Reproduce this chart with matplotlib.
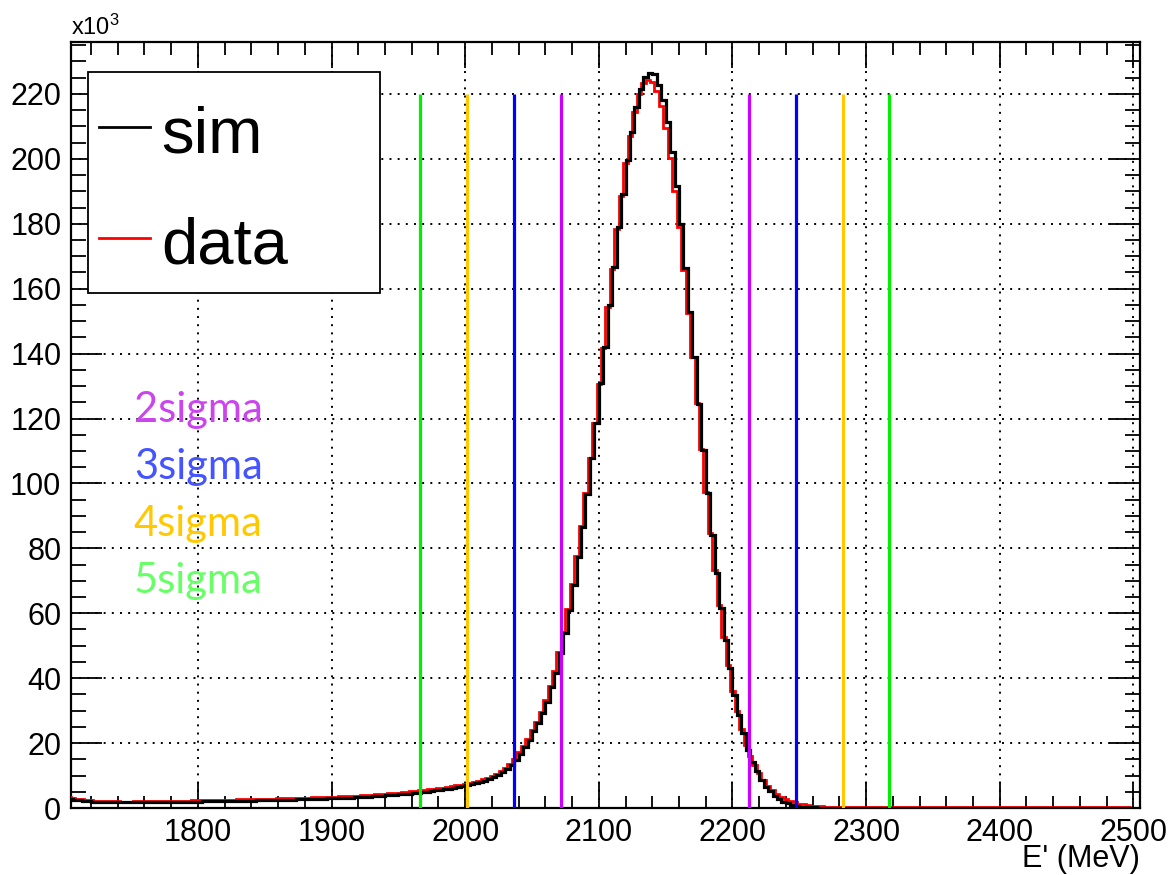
import numpy as np
import matplotlib.pyplot as plt
from matplotlib.ticker import MultipleLocator
from matplotlib.patches import Rectangle

plt.rcParams["font.family"] = ["Liberation Sans", "DejaVu Sans"]
plt.rcParams["mathtext.default"] = "regular"

# histogram binning (MeV)
sim_range = (1700.0, 2500.0)
data_range = (1698.3, 2498.3)
x_view = (1705, 2505)
y_view = (0, 236)

# counts per bin, in units of 10^3
sim_k = [
    3.0, 2.8, 2.6, 2.4, 2.2, 2.05, 1.95, 1.85, 1.8, 1.75,
    1.75, 1.7, 1.7, 1.7, 1.7, 1.7, 1.75, 1.75, 1.75, 1.8,
    1.8, 1.8, 1.85, 1.85, 1.9, 1.9, 1.9, 1.95, 1.95, 2.0,
    2.0, 2.05, 2.05, 2.1, 2.1, 2.15, 2.15, 2.2, 2.2, 2.25,
    2.25, 2.3, 2.3, 2.35, 2.4, 2.4, 2.45, 2.5, 2.5, 2.55,
    2.6, 2.6, 2.65, 2.7, 2.7, 2.75, 2.8, 2.85, 2.9, 2.95,
    3.0, 3.05, 3.1, 3.15, 3.2, 3.3, 3.35, 3.45, 3.5, 3.6,
    3.7, 3.8, 3.9, 4.0, 4.1, 4.2, 4.3, 4.45, 4.6, 4.75,
    4.9, 5.05, 5.2, 5.4, 5.6, 5.8, 6.0, 6.2, 6.45, 6.7,
    6.95, 7.3, 7.65, 8.0, 8.4, 8.9, 9.5, 10.2, 11.0, 12.0,
    13.3, 14.8, 16.7, 18.9, 21.0, 23.6, 26.2, 29.2, 32.8, 37.2,
    41.7, 47.7, 53.8, 61.0, 68.7, 77.4, 86.6, 96.7, 107.7, 118.5,
    130.8, 142.0, 154.9, 166.6, 179.0, 189.2, 199.5, 208.2, 215.9, 221.5,
    225.1, 226.3, 226.0, 222.6, 218.2, 211.3, 202.0, 191.5, 179.8, 166.5,
    152.8, 139.0, 124.6, 110.2, 96.9, 84.1, 72.5, 61.5, 51.8, 43.1,
    34.9, 28.7, 23.1, 17.9, 14.3, 11.3, 8.7, 6.6, 5.1, 3.8,
    2.8, 2.0, 1.4, 0.95, 0.65, 0.45, 0.3, 0.22, 0.16, 0.12,
    0.09, 0.07, 0.06, 0.05, 0.05, 0.04, 0.04, 0.03, 0.03, 0.03,
    0.02, 0.02, 0.02, 0.02, 0.02, 0.02, 0.02, 0.02, 0.02, 0.02,
    0.02, 0.02, 0.02, 0.02, 0.01, 0.01, 0.01, 0.01, 0.01, 0.01,
    0.01, 0.01, 0.01, 0.01, 0.01, 0.01, 0.01, 0.01, 0.01, 0.01,
    0.01, 0.01, 0.01, 0.01, 0.01, 0.01, 0.01, 0.01, 0.01, 0.01,
    0.01, 0.01, 0.01, 0.01, 0.01, 0.01, 0.01, 0.01, 0.01, 0.01,
    0.01, 0.01, 0.01, 0.01, 0.01, 0.01, 0.01, 0.01, 0.01, 0.01,
]

data_k = [
    3.4, 3.3, 3.1, 2.9, 2.7, 2.5, 2.4, 2.3, 2.2, 2.15,
    2.1, 2.05, 2.05, 2.0, 2.0, 2.0, 2.05, 2.05, 2.05, 2.1,
    2.1, 2.15, 2.15, 2.2, 2.2, 2.25, 2.25, 2.3, 2.3, 2.35,
    2.35, 2.4, 2.4, 2.45, 2.5, 2.5, 2.55, 2.55, 2.6, 2.65,
    2.65, 2.7, 2.7, 2.75, 2.8, 2.85, 2.85, 2.9, 2.95, 3.0,
    3.0, 3.05, 3.1, 3.15, 3.15, 3.2, 3.25, 3.3, 3.35, 3.4,
    3.45, 3.5, 3.55, 3.6, 3.7, 3.75, 3.85, 3.9, 4.0, 4.1,
    4.2, 4.3, 4.4, 4.5, 4.6, 4.7, 4.8, 4.95, 5.1, 5.25,
    5.4, 5.55, 5.7, 5.9, 6.1, 6.3, 6.5, 6.7, 6.95, 7.2,
    7.45, 7.8, 8.1, 8.45, 8.85, 9.35, 9.9, 10.6, 11.4, 12.4,
    13.7, 15.2, 17.1, 19.2, 21.4, 24.0, 26.6, 29.6, 33.2, 37.6,
    42.1, 48.0, 54.2, 61.4, 69.0, 77.7, 86.8, 96.9, 107.8, 118.6,
    130.6, 141.8, 154.5, 166.2, 178.4, 188.5, 198.6, 207.0, 214.4, 220.0,
    223.5, 224.3, 223.8, 220.8, 216.2, 209.5, 200.4, 190.2, 178.9, 165.9,
    152.5, 139.0, 124.8, 110.6, 97.5, 84.8, 73.3, 62.4, 52.8, 44.2,
    36.0, 29.8, 24.3, 19.3, 15.9, 13.1, 10.7, 8.6, 6.8, 5.4,
    4.3, 3.4, 2.7, 2.15, 1.7, 1.35, 1.1, 0.9, 0.75, 0.62,
    0.52, 0.46, 0.42, 0.39, 0.37, 0.35, 0.34, 0.33, 0.32, 0.32,
    0.31, 0.31, 0.3, 0.3, 0.3, 0.29, 0.29, 0.29, 0.28, 0.28,
    0.28, 0.28, 0.27, 0.27, 0.27, 0.27, 0.26, 0.26, 0.26, 0.26,
    0.26, 0.25, 0.25, 0.25, 0.25, 0.25, 0.24, 0.24, 0.24, 0.24,
    0.24, 0.24, 0.23, 0.23, 0.23, 0.23, 0.23, 0.23, 0.22, 0.22,
    0.22, 0.22, 0.22, 0.22, 0.22, 0.21, 0.21, 0.21, 0.21, 0.21,
    0.21, 0.21, 0.2, 0.2, 0.2, 0.2, 0.2, 0.2, 0.2, 0.2,
]

# peak fit and sigma window lines
peak_mean = 2142.0
peak_sigma = 35.1
sigma_n = [2, 3, 4, 5]
sigma_line_colors = ["#cc00ff", "#0000ff", "#ffc800", "#00ee00"]
sigma_text_colors = ["#cc44ee", "#4455ff", "#ffc800", "#66ff66"]
sigma_labels = ["2sigma", "3sigma", "4sigma", "5sigma"]
line_top = 220

legend_labels = ["sim", "data"]
legend_colors = ["black", "red"]

sim_edges = np.linspace(sim_range[0], sim_range[1], len(sim_k) + 1)
data_edges = np.linspace(data_range[0], data_range[1], len(data_k) + 1)

fig = plt.figure(figsize=(11.68, 8.75), dpi=100)
ax = fig.add_axes([71 / 1168, 67 / 875, 1069 / 1168, 766 / 875])

ax.stairs(data_k, data_edges, baseline=None, color="red", lw=2.0, zorder=3)
ax.stairs(sim_k, sim_edges, baseline=None, color="black", lw=2.3, zorder=4)

for n, c in zip(sigma_n, sigma_line_colors):
    for s in (-1, 1):
        ax.vlines(peak_mean + s * n * peak_sigma, 0, line_top, color=c, lw=2.3, zorder=5)

ax.set_xlim(*x_view)
ax.set_ylim(*y_view)
ax.xaxis.set_major_locator(MultipleLocator(100))
ax.xaxis.set_minor_locator(MultipleLocator(20))
ax.yaxis.set_major_locator(MultipleLocator(20))
ax.yaxis.set_minor_locator(MultipleLocator(5))
ax.tick_params(which="both", direction="in", top=True, right=True, width=1.3, labelsize=22)
ax.tick_params(axis="x", which="major", length=19, pad=7)
ax.tick_params(axis="x", which="minor", length=9)
ax.tick_params(axis="y", which="major", length=22, pad=7)
ax.tick_params(axis="y", which="minor", length=11)
for sp in ax.spines.values():
    sp.set_linewidth(1.6)

ax.set_axisbelow(True)
ax.grid(which="major", color="black", linestyle=(0, (1, 3.2)), linewidth=1.4)

ax.set_xlabel("E' (MeV)", fontsize=22, ha="right", va="top")
ax.xaxis.set_label_coords(1.0, -0.047)
ax.text(0.0, 1.009, r"x10$^{3}$", transform=ax.transAxes, fontsize=17,
        ha="left", va="baseline")

# legend box
ax.add_patch(Rectangle((0.0162, 0.672), 0.2728, 0.289, transform=ax.transAxes,
                       facecolor="white", edgecolor="black", lw=1.3, zorder=6))
for i, (lab, c) in enumerate(zip(legend_labels, legend_colors)):
    yh = 0.889 - i * 0.1455
    ax.plot([0.0265, 0.0739], [yh, yh], transform=ax.transAxes, color=c, lw=2.0, zorder=7)
    ax.text(0.0848, yh - 0.033, lab, transform=ax.transAxes, fontsize=47,
            ha="left", va="baseline", zorder=7)

for i, (lab, c) in enumerate(zip(sigma_labels, sigma_text_colors)):
    ax.text(0.0589, 0.504 - i * 0.0745, lab, transform=ax.transAxes, fontsize=30,
            family=["Lato", "DejaVu Sans"], color=c, ha="left", va="baseline", zorder=7)

fig.savefig("out.png", dpi=100)
